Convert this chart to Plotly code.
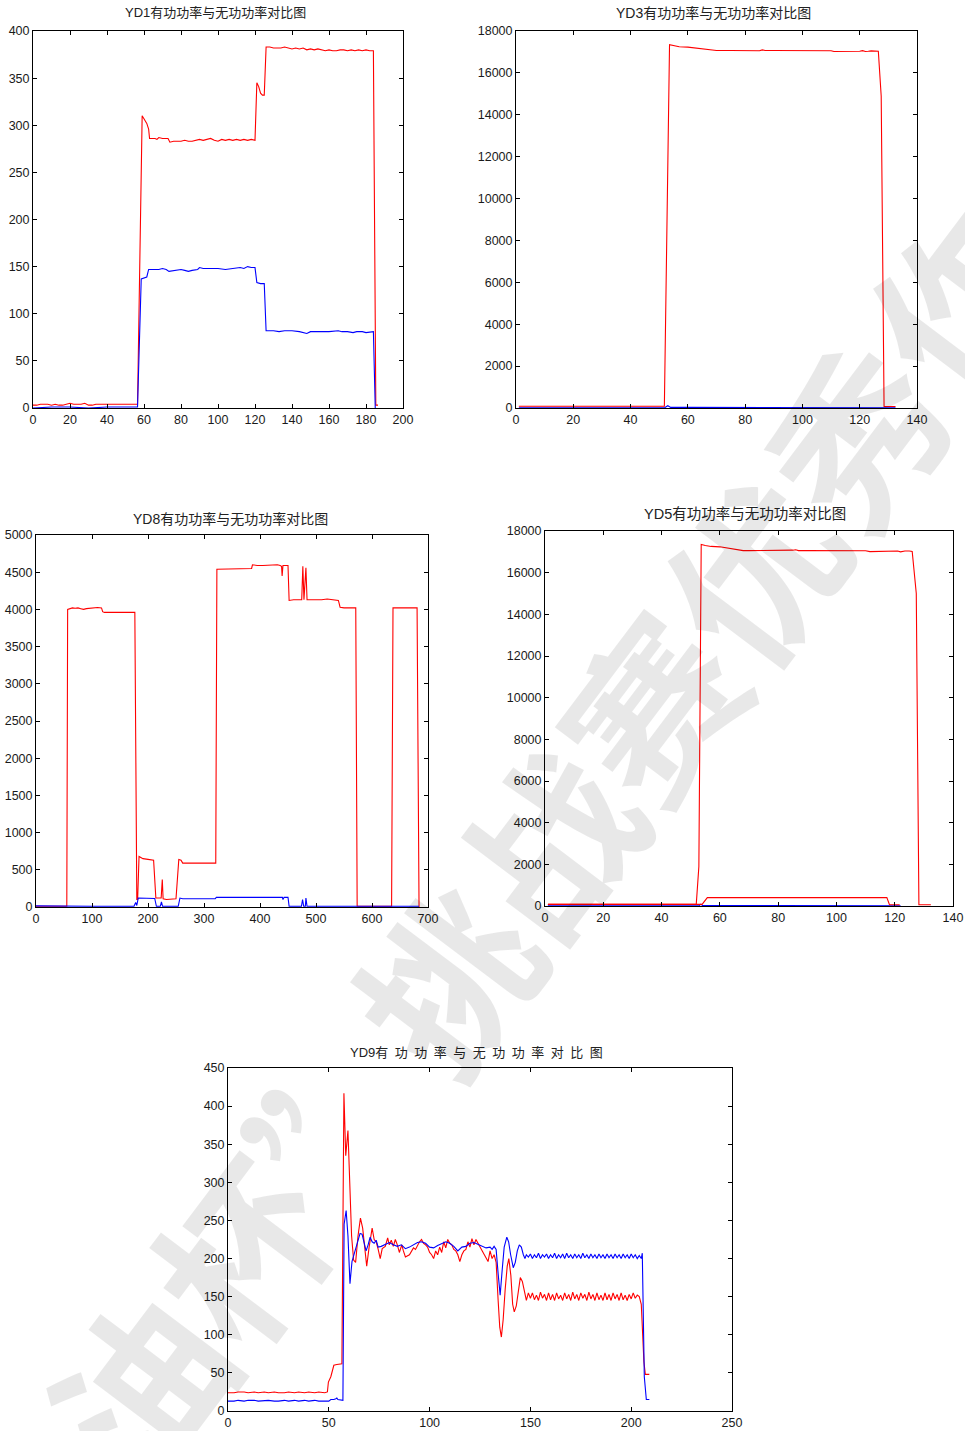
import plotly.graph_objects as go

W, H = 965, 1431

# ---------------- data ----------------
yd1_red_x = [0, 2, 4, 6, 8, 10, 12, 14, 16, 18, 20, 22, 24, 26, 28, 30, 32, 34, 36, 38, 40, 44, 48, 52, 56.5,
             59, 60, 61.5, 62.5, 63, 66, 67, 68, 70, 73, 74, 76, 80, 82, 84, 86, 88, 90, 92, 94, 96, 98, 100,
             102, 104, 106, 108, 110, 112, 114, 116, 118, 120, 121, 122, 123, 124, 125, 126, 128, 130, 132,
             134, 136, 138, 140, 142, 144, 146, 148, 150, 152, 154, 156, 158, 160, 162, 164, 166, 168, 170,
             172, 174, 176, 178, 180, 182, 184, 185.3, 186.5]
yd1_red_y = [3, 3, 4, 4, 4, 3, 4, 3, 3, 4, 5, 4, 4, 4, 5, 3, 3, 4, 4, 4, 4, 4, 4, 4, 4,
             310, 307, 302, 296, 286, 286, 285, 287, 286, 286, 282, 283, 283, 284, 283, 283, 284, 285, 284, 285, 286, 284, 283,
             285, 284, 285, 284, 285, 284, 285, 284, 285, 284, 345, 341, 334, 332, 332, 383, 383, 382, 382,
             382, 383, 382, 381, 382, 381, 382, 380, 381, 380, 381, 380, 379, 380, 379, 379, 380, 380, 379,
             380, 379, 380, 379, 380, 379, 379, 3, 3]
yd1_blue_x = [0, 10, 20, 30, 40, 50, 56.5, 58.5, 60, 61.5, 62.5, 66, 68, 70, 72, 73.5, 76, 78, 80, 82, 84, 86,
              88, 89, 90, 92, 96, 100, 104, 108, 110, 112, 114, 116, 118, 120, 121, 123, 125, 126, 130, 133,
              136, 140, 144, 147, 148, 150, 155, 160, 165, 167, 170, 173, 175, 178, 180, 184, 185]
yd1_blue_y = [0, 1, 1, 0, 1, 1, 1, 137, 138, 139, 147, 147, 147, 148, 147, 145, 146, 146, 147, 146, 145, 146,
              147, 147, 149, 148, 148, 148, 147, 148, 148, 149, 148, 150, 149, 149, 133, 132, 132, 82, 82, 81,
              82, 82, 81, 80, 79, 81, 81, 81, 82, 81, 81, 80, 81, 81, 80, 81, 0]

yd3_red_x = [1, 10, 20, 30, 40, 50, 51.8, 53.6, 55, 57, 60, 62, 64, 66, 68, 70, 75, 80, 85, 86, 87, 90, 95, 100,
             105, 110, 111, 114, 116, 118, 120, 121, 122, 123, 124, 126.5, 127.5, 128.5, 130, 132.5]
yd3_red_y = [80, 80, 80, 80, 80, 80, 80, 17350, 17300, 17250, 17230, 17200, 17150, 17120, 17080, 17070, 17070,
             17060, 17060, 17100, 17070, 17070, 17070, 17070, 17070, 17060, 17020, 17020, 17040, 17020, 17030,
             17060, 17020, 17030, 17050, 17030, 14900, 70, 70, 70]
yd3_blue_x = [1, 20, 40, 52, 53, 54, 60, 80, 100, 120, 127, 128.5, 132.5]
yd3_blue_y = [10, 15, 15, 20, 110, 30, 30, 30, 30, 30, 30, 15, 15]

yd8_red_x = [0, 20, 40, 55, 56.5, 60, 65, 70, 75, 80, 85, 90, 95, 100, 105, 110, 117, 119, 122, 130, 140, 150,
             160, 170, 176.5, 180, 181.5, 184, 188, 191, 200, 210, 214, 220, 223.5, 225.5, 227, 233, 240, 250,
             255, 259, 262, 280, 300, 321, 323, 330, 340, 350, 360, 370, 380, 385, 386.5, 395, 405, 415, 425,
             431, 436, 438.5, 439.5, 441, 450, 452, 460, 470, 474.5, 476.5, 478.5, 482, 484, 490, 500, 510,
             520, 530, 540, 543, 550, 560, 571, 573.5, 590, 610, 635, 637.5, 645, 655, 665, 675, 680.5, 684]
yd8_red_y = [10, 10, 5, 10, 4000, 4010, 4020, 4015, 4020, 4010, 4000, 4010, 4015, 4020, 4020, 4025, 4020, 3970,
             3960, 3960, 3960, 3960, 3960, 3960, 3960, 100, 100, 680, 660, 650, 640, 630, 120, 120, 120, 370,
             110, 100, 100, 110, 640, 630, 590, 590, 590, 590, 4540, 4540, 4540, 4545, 4550, 4545, 4545, 4550,
             4600, 4590, 4590, 4595, 4595, 4600, 4590, 4580, 4450, 4590, 4590, 4120, 4130, 4130, 4130, 4580,
             4130, 4560, 4130, 4130, 4125, 4130, 4140, 4135, 4120, 4030, 4020, 4020, 4020, 10, 10, 5, 10,
             4020, 4020, 4010, 4015, 4020, 4020, 0]
yd8_blue_x = [0, 50, 100, 150, 175, 178, 180, 182.5, 190, 200, 212, 215, 222, 224, 226, 240, 254, 257, 262, 280,
              300, 320, 322, 350, 400, 440, 441, 443, 450, 452, 474, 476, 478, 481, 482, 484, 500, 550, 600,
              650, 684]
yd8_blue_y = [15, 10, 10, 10, 10, 60, 20, 120, 120, 120, 115, 10, 10, 70, 10, 10, 10, 120, 110, 110,
              110, 110, 130, 130, 130, 130, 100, 130, 130, 10, 10, 100, 10, 10, 120, 10, 10, 10, 10,
              10, 10]

yd5_red_x = [1, 20, 40, 51.9, 52.8, 53.6, 55, 57, 60, 62, 64, 66, 68, 70, 75, 80, 85, 86, 87, 90, 100, 110,
             111.5, 114, 115.5, 117, 119, 121, 122, 123.5, 125, 126, 127.4, 128.3, 130, 132.4]
yd5_red_y = [80, 80, 80, 80, 1900, 17350, 17300, 17260, 17240, 17200, 17150, 17100, 17060, 17060, 17060, 17060,
             17080, 17100, 17060, 17060, 17060, 17050, 17010, 17010, 17040, 17010, 17010, 17040, 17000, 17040,
             17040, 17020, 15000, 60, 60, 60]
yd5_red2_x = [1, 53.9, 55.7, 60, 80, 100, 117.3, 118.2, 121.7]
yd5_red2_y = [80, 80, 400, 400, 400, 400, 400, 60, 60]
yd5_blue_x = [1, 53, 53.5, 54, 80, 100, 121, 122]
yd5_blue_y = [15, 25, 90, 25, 25, 25, 25, 15]

yd9_red_x = [0, 3, 5, 8, 10, 13, 15, 18, 20, 23, 25, 28, 30, 33, 35, 38, 40, 43, 45, 48, 49.3, 49.8, 51, 52.5,
             54, 56.5, 57.5, 58.4, 59.5, 60.5, 61.3, 62.3, 63.3, 64.5, 65.7, 66.8, 67.8, 68.8, 70, 71.5, 72.5,
             73.5, 74.5, 75.5, 76.5, 78, 79.2, 80, 81, 82, 83, 84, 85, 86.2, 87, 88, 90, 91, 92, 93, 94, 95,
             96, 97, 98, 99, 100, 101, 102, 103, 104, 105, 106, 107, 108, 109, 110, 111, 112, 113, 114, 115,
             116, 117, 118, 119, 120, 121, 122, 123, 124, 125, 126, 127, 128, 129, 130, 131, 132, 133, 134,
             134.8, 135.6, 136.5, 137.5, 138.5, 139.3, 140.3, 141.2, 142, 143, 144, 145, 146, 147, 148, 149,
             150, 151, 152, 153, 154, 155, 156, 157, 158, 159, 160, 161, 162, 163, 164, 165, 166, 167, 168,
             169, 170, 171, 172, 173, 174, 175, 176, 177, 178, 179, 180, 181, 182, 183, 184, 185, 186, 187,
             188, 189, 190, 191, 192, 193, 194, 195, 196, 197, 198, 199, 200, 201, 202, 203, 204, 205, 206.3,
             207, 209]
yd9_red_y = [24, 24, 25, 25, 24, 25, 24, 25, 24, 25, 24, 24, 25, 24, 25, 24, 25, 24, 25, 24, 25, 38, 45, 60,
             61, 62, 417, 335, 368, 280, 230, 198, 195, 230, 253, 240, 212, 190, 215, 240, 225,
             222, 212, 200, 213, 216, 227, 218, 224, 216, 225, 218, 208, 218, 210, 202, 205, 210, 214, 212, 218, 222,
             225, 220, 218, 215, 208, 205, 200, 210, 205, 215, 208, 222, 214, 225, 220, 218, 212, 210, 205, 196,
             205, 210, 212, 222, 215, 226, 218, 225, 220, 215, 212, 205, 202, 196, 210, 200, 205, 195, 145,
             110, 97, 120, 160, 190, 200, 178, 140, 130, 138, 160, 175, 170, 155, 145, 155,
             148, 155, 146, 152, 145, 156, 148, 153, 145, 155, 146, 153, 145, 155, 147, 152, 145, 155, 147,
             153, 145, 156, 147, 153, 145, 155, 148, 153, 145, 156, 147, 153, 145, 155, 146, 152, 145, 155,
             146, 153, 145, 155, 147, 153, 145, 155, 146, 152, 145, 153, 147, 155, 148, 152, 150, 140, 65,
             48, 48]
yd9_blue_x = [0, 3, 5, 8, 10, 13, 15, 18, 20, 23, 25, 28, 30, 33, 35, 38, 40, 43, 45, 48, 50, 51, 52.5, 53.5, 54,
              54.5, 56.5, 57, 57.6, 58.6, 59.5, 60.5, 61.5, 62.5, 63.5, 64.5, 65.5, 66.5, 67.5, 68.5, 69.5,
              70.5, 71.5, 72.5, 73.5, 74.5, 76, 78, 80, 82, 84, 86, 88, 90, 92, 94, 96, 98, 100, 102, 104, 106,
              108, 110, 112, 114, 116, 118, 120, 122, 124, 126, 128, 130, 131, 132, 133, 134, 135, 136, 137,
              138.3, 139.2, 140.2, 141.5, 142.5, 143.5, 144.5, 145.5, 146.5, 147.3, 148, 149, 150, 151, 152,
              153, 154, 155, 156, 157, 158, 159, 160, 161, 162, 163, 164, 165, 166, 167, 168, 169, 170, 171,
              172, 173, 174, 175, 176, 177, 178, 179, 180, 181, 182, 183, 184, 185, 186, 187, 188, 189, 190,
              191, 192, 193, 194, 195, 196, 197, 198, 199, 200, 201, 202, 203, 204, 205, 205.5, 206.5, 207.5,
              209]
yd9_blue_y = [13, 13, 14, 13, 14, 14, 13, 14, 14, 13, 13, 14, 13, 14, 13, 14, 13, 14, 13, 13, 13, 15, 15, 16, 17,
              15, 14, 14, 245, 263, 230, 167, 196, 205, 212, 222, 233, 232, 222, 210, 218,
              228, 222, 220, 224, 215, 216, 218, 221, 218, 216, 218, 213, 215, 218, 221, 222, 220, 215, 214, 217, 220,
              222, 220, 216, 210, 215, 216, 220, 221, 219, 216, 214, 215, 212, 216, 212, 180, 152, 185, 215,
              228, 222, 205, 188, 195, 210, 218, 215, 205, 200, 205, 202, 206, 200, 205,
              201, 207, 200, 205, 202, 206, 200, 205, 201, 207, 200, 205, 201, 206, 200, 207, 201, 205, 200,
              206, 201, 205, 200, 207, 201, 205, 200, 206, 201, 205, 200, 206, 201, 205, 200, 206, 201, 205,
              200, 206, 201, 205, 200, 206, 201, 205, 200, 206, 201, 205, 200, 204, 200, 207, 45, 15,
              15]

titles = ["YD1有功功率与无功功率对比图", "YD3有功功率与无功功率对比图", "YD8有功功率与无功功率对比图",
          "YD5有功功率与无功功率对比图", "YD9有\u2002功\u2002功\u2002率\u2002与\u2002无\u2002功\u2002功\u2002率\u2002对\u2002比\u2002图"]

# ---------------- layout helpers ----------------
# plot boxes in pixels: (left, right, top, bottom)
boxes = [(33, 403, 31, 408), (516, 917, 31, 408), (36, 428, 535, 907), (545, 953, 531, 906), (228, 732, 1068, 1411)]
xranges = [[0, 200], [0, 140], [0, 700], [0, 140], [0, 250]]
yranges = [[0, 400], [0, 18000], [0, 5000], [0, 18000], [0, 450]]
xdt = [20, 20, 100, 20, 50]
ydt = [50, 2000, 500, 2000, 50]
title_pos = [(215, 13, 13), (713, 13, 14), (230, 519, 14), (745, 514, 14.5), (476, 1052, 13)]

# drawing order per panel (first drawn is below)
series = [
    [(yd1_red_x, yd1_red_y, "#ff0000"), (yd1_blue_x, yd1_blue_y, "#0000ff")],
    [(yd3_blue_x, yd3_blue_y, "#0000ff"), (yd3_red_x, yd3_red_y, "#ff0000")],
    [(yd8_red_x, yd8_red_y, "#ff0000"), (yd8_blue_x, yd8_blue_y, "#0000ff")],
    [(yd5_blue_x, yd5_blue_y, "#0000ff"), (yd5_red_x, yd5_red_y, "#ff0000"), (yd5_red2_x, yd5_red2_y, "#ff0000")],
    [(yd9_red_x, yd9_red_y, "#ff0000"), (yd9_blue_x, yd9_blue_y, "#0000ff")],
]

fig = go.Figure()
tickfont = dict(family="Liberation Sans, Arial, sans-serif", size=12.5, color="#1a1a1a")
annotations = []

for i in range(5):
    n = "" if i == 0 else str(i + 1)
    xa, ya = "x" + n, "y" + n
    for (sx, sy, col) in series[i]:
        fig.add_trace(go.Scatter(x=sx, y=sy, mode="lines", line=dict(color=col, width=1.1),
                                 xaxis=xa, yaxis=ya, showlegend=False, hoverinfo="skip"))
    l, r, t, b = boxes[i]
    axcommon = dict(showline=True, linecolor="black", linewidth=1, mirror="ticks", ticks="inside",
                    ticklen=4, tickcolor="black", showgrid=False, zeroline=False, tickfont=tickfont,
                    automargin=False, tickformat="d")
    fig.layout["xaxis" + n] = dict(domain=[l / W, r / W], range=xranges[i], dtick=xdt[i], tick0=0,
                                   anchor=ya, **axcommon)
    fig.layout["yaxis" + n] = dict(domain=[1 - b / H, 1 - t / H], range=yranges[i], dtick=ydt[i], tick0=0,
                                   anchor=xa, **axcommon)
    cx, cy, fs = title_pos[i]
    annotations.append(dict(text=titles[i], x=cx / W, y=1 - cy / H, xref="paper", yref="paper",
                            xanchor="center", yanchor="middle", showarrow=False,
                            font=dict(family="Liberation Sans, Noto Sans CJK SC, sans-serif", size=fs,
                                      color="#222222")))

# watermark
annotations.append(dict(text="油杯”挑战赛优秀作", x=545 / W, y=1 - 840 / H, xref="paper", yref="paper",
                        xanchor="center", yanchor="middle", showarrow=False, textangle=-53,
                        font=dict(family="Noto Sans CJK SC", size=170, color="rgba(0,0,0,0.09)",
                                  weight="bold")))

fig.update_layout(width=W, height=H, margin=dict(l=0, r=0, t=0, b=0, autoexpand=False), paper_bgcolor="white",
                  plot_bgcolor="rgba(0,0,0,0)", annotations=annotations)

fig.write_html("out.html")
